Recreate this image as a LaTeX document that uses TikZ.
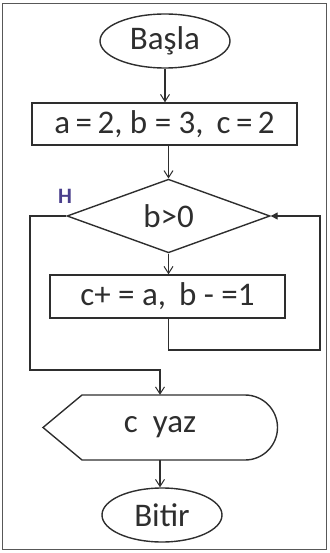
\documentclass[tikz,border=0pt]{standalone}
\usepackage{fontspec}
\setmainfont{Carlito}
\usetikzlibrary{shapes.geometric,arrows.meta,calc}
\definecolor{ink}{HTML}{2E2E2E}
\definecolor{hcol}{HTML}{4A3F8C}
\tikzset{
  every node/.style={font=\fontsize{33}{38}\selectfont, text=ink},
  ln/.style={draw=ink, line width=1.4pt},
  arr/.style={ln, -{Straight Barb[length=7pt,width=9pt,line width=1pt]}},
  farr/.style={ln, -{Triangle[length=7pt,width=7pt]}},
  term/.style={ellipse, ln, inner sep=0pt},
  proc/.style={rectangle, ln, inner sep=0pt},
  dec/.style={diamond, ln, inner sep=0pt},
}
\begin{document}
\begin{tikzpicture}[x=1pt,y=-1pt]
\useasboundingbox (0,0) rectangle (329,553);
\draw[draw=ink!80, line width=1.2pt] (2.5,3.5) rectangle (326.5,549.5);
\node[term, minimum width=130pt, minimum height=54pt] (basla) at (165,41) {Başla};
\node[proc, minimum width=265pt, minimum height=42pt] (init) at (164.5,124) {a\,=\,2, b = 3, \,c\,=\,2};
\node[dec, minimum width=203pt, minimum height=72pt] (cond) at (168.5,216) {b>0};
\node[proc, minimum width=235pt, minimum height=43pt] (body) at (167.5,296.5) {c+ = a, \,b - =1};
\node[minimum width=234pt, minimum height=65pt, inner sep=0pt] (out) at (160,427.5) {c\ \ yaz};
\draw[ln] (43,427.5) -- (82,395) -- (245,395) arc[start angle=-90, end angle=90, radius=32.5] -- (82,460) -- cycle;
\node[term, minimum width=120pt, minimum height=54pt] (bitir) at (162,515) {Bitir};
\node[font=\fontsize{22}{24}\selectfont\bfseries, text=hcol] (h) at (65,196) {H};
\coordinate (rt) at (320,350);
\coordinate (lt) at (30,370);
\draw[arr] (basla.south) -- (init.north -| basla.south);
\draw[arr] (init.south -| cond.north) -- (cond.north);
\draw[arr] (cond.south) -- (body.north -| cond.south);
\draw[farr] (body.south -| cond.south) |- (rt) |- (cond.east);
\draw[arr] (cond.west) -| (lt) -| (out.north);
\draw[arr] (out.south) -- (bitir.north -| out.south);
\end{tikzpicture}
\end{document}
